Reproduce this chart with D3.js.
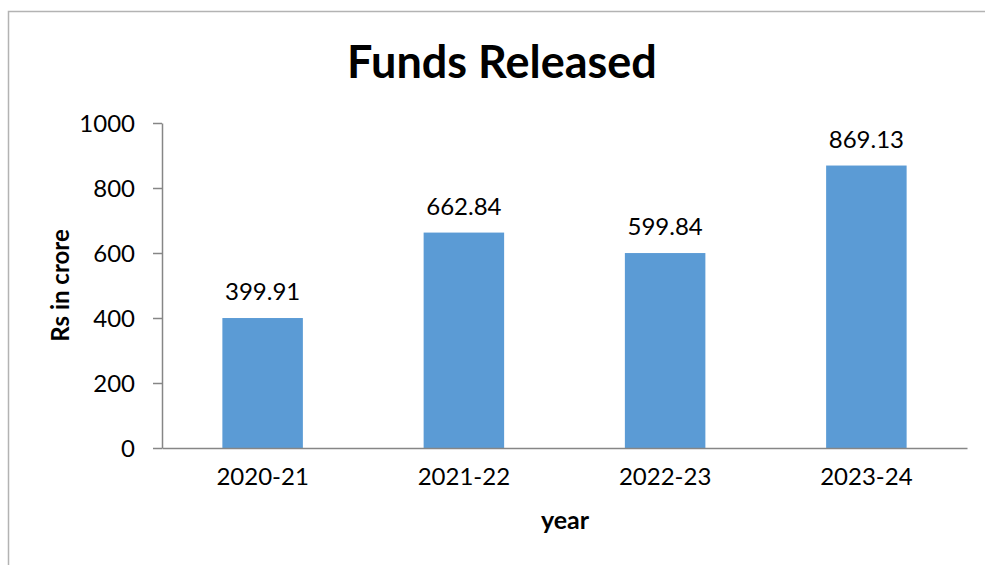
<!DOCTYPE html>
<html>
<head>
<meta charset="utf-8">
<script src="https://cdn.jsdelivr.net/npm/d3@7"></script>
<style>
  body { margin: 0; background: #fff; }
  svg text { font-family: Lato, "Open Sans", sans-serif; fill: #000; }
</style>
</head>
<body>
<div id="chart"></div>
<script>
// chart data
const years = ["2020-21", "2021-22", "2022-23", "2023-24"];
const funds = [399.91, 662.84, 599.84, 869.13];
const yTicks = [0, 200, 400, 600, 800, 1000];

const width = 985, height = 565;
const margin = { left: 162, right: 18, top: 123, bottom: 117 };

const svg = d3.select("#chart").append("svg")
    .attr("width", width)
    .attr("height", height);

// outer frame (only top and left edges visible)
svg.append("path")
    .attr("d", `M8.5,${height} L8.5,11.5 L${width},11.5`)
    .attr("fill", "none")
    .attr("stroke", "#b3b3b3")
    .attr("stroke-width", 1.5);

const x = d3.scaleBand()
    .domain(years)
    .range([margin.left, width - margin.right]);

const y = d3.scaleLinear()
    .domain([0, 1000])
    .range([height - margin.bottom, margin.top]);

const barW = x.bandwidth() * 0.4;

// bars
svg.selectAll(".bar")
    .data(years)
    .join("rect")
    .attr("class", "bar")
    .attr("x", d => x(d) + (x.bandwidth() - barW) / 2)
    .attr("y", (d, i) => y(funds[i]))
    .attr("width", barW)
    .attr("height", (d, i) => y(0) - y(funds[i]))
    .attr("fill", "#5b9bd5");

// value labels
svg.selectAll(".val")
    .data(years)
    .join("text")
    .attr("class", "val")
    .attr("x", d => x(d) + x.bandwidth() / 2)
    .attr("y", (d, i) => y(funds[i]) - 18)
    .attr("text-anchor", "middle")
    .style("font-size", "24px")
    .text((d, i) => funds[i].toFixed(2));

// y axis
const yAxis = svg.append("g")
    .attr("transform", `translate(${margin.left},0)`)
    .call(d3.axisLeft(y).tickValues(yTicks).tickFormat(d3.format("d"))
        .tickSize(9).tickSizeOuter(0).tickPadding(18));
yAxis.select(".domain").attr("stroke", "#868686").attr("stroke-width", 1.5);
yAxis.selectAll(".tick line").attr("stroke", "#868686").attr("stroke-width", 1.5);
yAxis.selectAll(".tick text").style("font-size", "24px").attr("dy", "0.36em");

// x axis
const xAxis = svg.append("g")
    .attr("transform", `translate(0,${y(0)})`)
    .call(d3.axisBottom(x).tickSize(0).tickPadding(20));
xAxis.select(".domain").attr("stroke", "#868686").attr("stroke-width", 1.5);
xAxis.selectAll(".tick text").style("font-size", "24px");

// titles
svg.append("text")
    .attr("x", 502)
    .attr("y", 78)
    .attr("text-anchor", "middle")
    .style("font-size", "45px")
    .style("font-weight", "bold")
    .text("Funds Released");

svg.append("text")
    .attr("transform", `translate(69,${(y(0) + y(1000)) / 2}) rotate(-90)`)
    .attr("text-anchor", "middle")
    .style("font-size", "24px")
    .style("font-weight", "bold")
    .text("Rs in crore");

svg.append("text")
    .attr("x", 565)
    .attr("y", 529)
    .attr("text-anchor", "middle")
    .style("font-size", "25px")
    .style("font-weight", "bold")
    .text("year");
</script>
</body>
</html>
